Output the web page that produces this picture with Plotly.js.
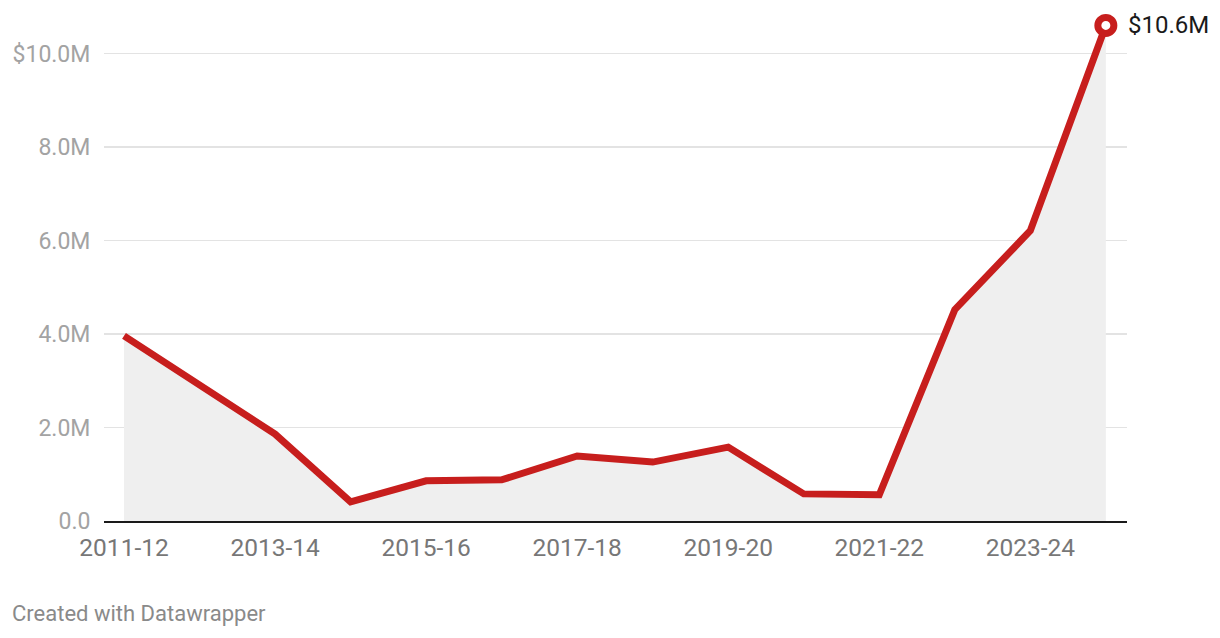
<!DOCTYPE html>
<html>
<head>
<meta charset="utf-8">
<script src="https://cdn.plot.ly/plotly-3.0.1.min.js"></script>
<style>html,body{margin:0;padding:0;background:#fff;}#chart{width:1220px;height:638px;}</style>
</head>
<body>
<div id="chart"></div>
<script>
const years = ["2011-12","2012-13","2013-14","2014-15","2015-16","2016-17","2017-18","2018-19","2019-20","2020-21","2021-22","2022-23","2023-24","2024-25"];
const valuesM = [3.96, 2.91, 1.86, 0.41, 0.86, 0.88, 1.39, 1.26, 1.58, 0.58, 0.56, 4.52, 6.21, 10.6];
const xTickVals = ["2011-12","2013-14","2015-16","2017-18","2019-20","2021-22","2023-24"];
const yTickVals = [0, 2, 4, 6, 8, 10];
const yTickText = ["0.0", "2.0M", "4.0M", "6.0M", "8.0M", "$10.0M"];
const lastLabel = "$10.6M";
const credit = "Created with Datawrapper";

const RED = "#c71e1d";
const traces = [
  {
    x: years, y: valuesM, type: "scatter", mode: "lines",
    fill: "tozeroy", fillcolor: "#efefef",
    line: {color: RED, width: 7, shape: "linear"},
    hoverinfo: "skip", cliponaxis: false
  },
  {
    x: [years[years.length-1]], y: [valuesM[valuesM.length-1]],
    type: "scatter", mode: "markers",
    marker: {size: 16, color: "#ffffff", line: {color: RED, width: 7}},
    hoverinfo: "skip", cliponaxis: false
  }
];
const layout = {
  width: 1220, height: 638,
  margin: {l: 104, r: 93, t: 20, b: 117},
  paper_bgcolor: "#ffffff", plot_bgcolor: "#ffffff",
  showlegend: false,
  font: {family: "Roboto, sans-serif"},
  xaxis: {
    type: "category", range: [-0.265, 13.28],
    tickmode: "array", tickvals: xTickVals,
    showgrid: false, zeroline: false,
    showline: true, linecolor: "#1a1a1a", linewidth: 2,
    ticks: "outside", ticklen: 4, tickcolor: "rgba(0,0,0,0)",
    tickfont: {size: 24.5, color: "#777777"}
  },
  yaxis: {
    range: [0, 10.716], tickmode: "array", tickvals: yTickVals, ticktext: yTickText,
    showgrid: true, gridcolor: "#e3e3e3", gridwidth: 1.5,
    zeroline: false, showline: false,
    ticks: "outside", ticklen: 8, tickcolor: "rgba(0,0,0,0)",
    tickfont: {size: 23, color: "#a3a3a3"}
  },
  annotations: [
    {x: years[years.length-1], y: valuesM[valuesM.length-1], xref: "x", yref: "y",
     text: lastLabel, showarrow: false, xanchor: "left", yanchor: "middle", xshift: 20,
     font: {size: 24, color: "#1a1a1a"}},
    {x: -0.0919, y: -0.1856, xref: "paper", yref: "paper", text: credit, showarrow: false,
     xanchor: "left", yanchor: "middle", font: {size: 22, color: "#8a8a8a"}}
  ]
};
Plotly.newPlot("chart", traces, layout, {displayModeBar: false, staticPlot: true});
</script>
</body>
</html>
